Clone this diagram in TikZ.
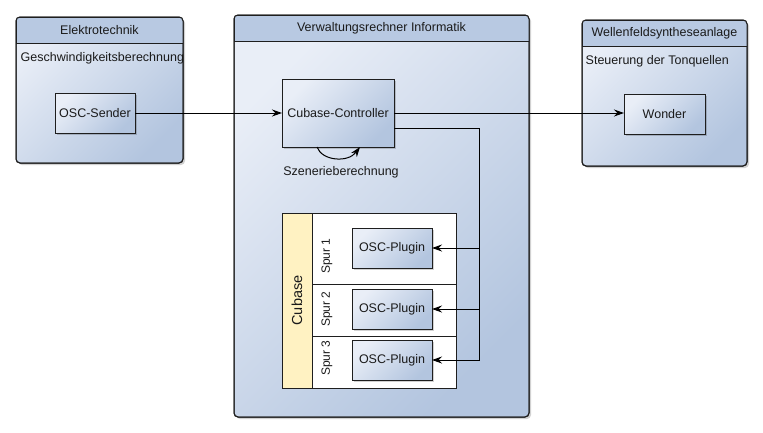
\documentclass[tikz,border=0pt]{standalone}
\usepackage{fontspec}
\setmainfont{Liberation Sans}
\usetikzlibrary{arrows.meta,shadows}
\definecolor{hdr}{HTML}{B8C9E2}
\definecolor{gLight}{HTML}{E9EEF7}
\definecolor{gDark}{HTML}{B3C5DF}
\definecolor{poolY}{HTML}{FFF2C2}
\definecolor{edgeC}{HTML}{1E1E1E}
\definecolor{txtC}{HTML}{1A1A1A}
\tikzset{
  shadowed/.style={drop shadow={shadow xshift=2pt,shadow yshift=-2pt,fill=black,opacity=0.18}},
  container/.style={draw=edgeC, line width=1pt, rounded corners=4pt, top color=gLight, bottom color=gDark, shading angle=45, inner sep=0pt, outer sep=0pt, anchor=north west, shadowed},
  header/.style={draw=edgeC, line width=1pt, fill=hdr, inner sep=0pt, outer sep=0pt, anchor=north west, text=txtC, font=\fontsize{12.5}{14}\selectfont},
  box/.style={draw=edgeC, line width=1pt, top color=gLight, bottom color=gDark, shading angle=45, inner sep=0pt, outer sep=0pt, anchor=north west, text=txtC, font=\fontsize{12.5}{14}\selectfont, shadowed},
  txt/.style={inner sep=0pt, text=txtC, font=\fontsize{12.5}{14}\selectfont},
  lane/.style={draw=edgeC, line width=1pt, fill=white, inner sep=0pt, outer sep=0pt, anchor=north west},
  lanelabel/.style={inner sep=0pt, text=txtC, rotate=90, font=\fontsize{12}{13}\selectfont},
  conn/.style={draw=black, line width=1pt, -{Stealth[length=10pt,width=7pt]}},
  line/.style={draw=black, line width=1pt}
}
\begin{document}
\begin{tikzpicture}[x=1pt,y=-1pt]
\useasboundingbox (0,0) rectangle (763,432);

% ---------- Elektrotechnik ----------
\node[container, minimum width=167pt, minimum height=146pt] (elek) at (16,17) {};
\begin{scope}
  \clip[rounded corners=4pt] (elek.north west) rectangle (elek.south east);
  \node[header, minimum width=167pt, minimum height=26pt] (elekH) at (16,17) {Elektrotechnik};
  \node[txt, anchor=west] (elekSub) at (20.5,58) {Geschwindigkeitsberechnung};
\end{scope}
\draw[draw=edgeC, line width=1pt, rounded corners=4pt] (elek.north west) rectangle (elek.south east);
\node[box, minimum width=80pt, minimum height=40pt] (osc) at (55,93) {OSC-Sender};

% ---------- Verwaltungsrechner Informatik ----------
\node[container, minimum width=295pt, minimum height=402pt] (verw) at (234,15) {};
\begin{scope}
  \clip[rounded corners=4pt] (verw.north west) rectangle (verw.south east);
  \node[header, minimum width=295pt, minimum height=26pt] (verwH) at (234,15) {Verwaltungsrechner Informatik};
\end{scope}
\draw[draw=edgeC, line width=1pt, rounded corners=4pt] (verw.north west) rectangle (verw.south east);
\node[box, minimum width=112pt, minimum height=68pt] (ctrl) at (282,79) {Cubase-Controller};

% self loop
\coordinate (loopA) at (317,147);
\coordinate (loopB) at (360,147);
\coordinate (lc1) at (322,161);
\coordinate (lc2) at (348,163);
\draw[conn] (loopA) .. controls (lc1) and (lc2) .. (loopB);
\node[txt] (szen) at (341,172) {Szenerieberechnung};

% Cubase pool
\node[draw=edgeC, line width=1pt, fill=poolY, inner sep=0pt, outer sep=0pt, anchor=north west, minimum width=30pt, minimum height=175pt] (poolL) at (282,213) {};
\node[rotate=90, inner sep=0pt, text=txtC, font=\fontsize{14.5}{16}\selectfont] (poolT) at (poolL.center) {Cubase};
\node[lane, minimum width=144pt, minimum height=71pt] (lane1) at (312,213) {};
\node[lane, minimum width=144pt, minimum height=52pt] (lane2) at (312,284) {};
\node[lane, minimum width=144pt, minimum height=52pt] (lane3) at (312,336) {};
\node[lanelabel] (sp1) at (327,256) {Spur 1};
\node[lanelabel] (sp2) at (327,309) {Spur 2};
\node[lanelabel] (sp3) at (327,358) {Spur 3};
\node[box, minimum width=80pt, minimum height=40pt] (plug1) at (352,228) {OSC-Plugin};
\node[box, minimum width=80pt, minimum height=40pt] (plug2) at (352,289) {OSC-Plugin};
\node[box, minimum width=80pt, minimum height=40pt] (plug3) at (352,340) {OSC-Plugin};

% ---------- Wellenfeldsyntheseanlage ----------
\node[container, minimum width=165pt, minimum height=146pt] (well) at (582,20) {};
\begin{scope}
  \clip[rounded corners=4pt] (well.north west) rectangle (well.south east);
  \node[header, minimum width=165pt, minimum height=26pt] (wellH) at (582,20) {Wellenfeldsyntheseanlage};
  \node[txt, anchor=west] (wellSub) at (585.5,61) {Steuerung der Tonquellen};
\end{scope}
\draw[draw=edgeC, line width=1pt, rounded corners=4pt] (well.north west) rectangle (well.south east);
\node[box, minimum width=81pt, minimum height=40pt] (wonder) at (624,94) {Wonder};

% ---------- connectors ----------
\draw[conn] (osc.east) -- (ctrl.west |- osc.east);
\draw[conn] (ctrl.east |- osc.east) -- (wonder.west |- osc.east);
\coordinate (bus) at (479,128);
\draw[line] (ctrl.east |- bus) -- (bus);
\draw[conn] (bus) |- (plug1.east);
\draw[conn] (bus) |- (plug2.east);
\draw[conn] (bus) |- (plug3.east);
\end{tikzpicture}
\end{document}
